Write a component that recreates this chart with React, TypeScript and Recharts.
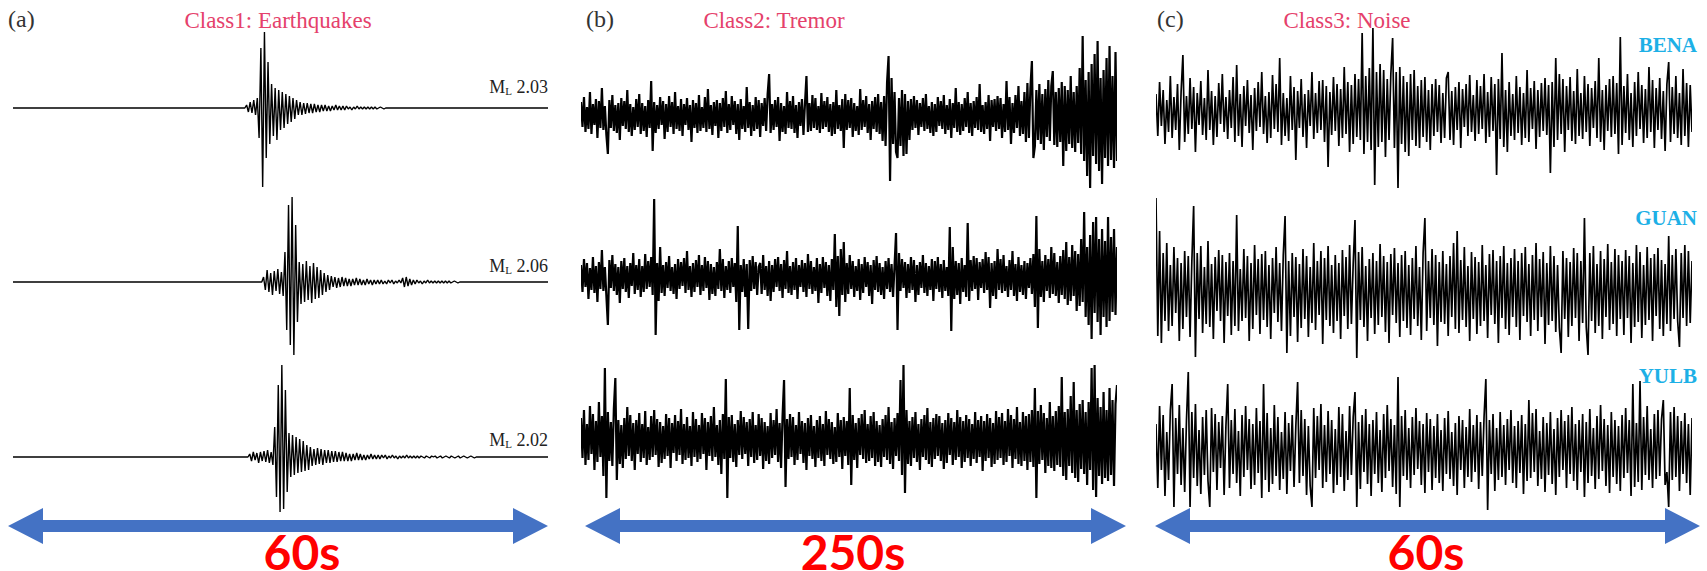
import React from 'react';
import { LineChart, Line, XAxis, YAxis } from 'recharts';

// ---------- labels ----------
const panelLetters = ['(a)', '(b)', '(c)'];
const classTitles = ['Class1: Earthquakes', 'Class2: Tremor', 'Class3: Noise'];
const durationLabels = ['60s', '250s', '60s'];
const magnitudes = ['2.03', '2.06', '2.02'];
const stations = ['BENA', 'GUAN', 'YULB'];

// ---------- panel (a): earthquakes, 60 s, bursts sampled every 0.2 s ----------
const eqDuration = 60;
const eqStep = 0.2;
const eqOnsets = [26.0, 27.9, 26.35];
const eqTicks = [0, 20, 40, 60];
const eqBurst1 = [
  3, -4, 6, -5, 8, -7, 10,
  -30, 60, -79, 76, -50, 46, -36,
  24, -28, 20, -32, 18, -22, 16, -20, 14, -16, 12, -14, 10, -11,
  8, -7, 6, -7, 5, -6, 5, -5, 4, -5, 4, -4, 3, -4, 3, -3, 3, -3, 2, -3, 2, -2, 3, -2, 2, -2, 2, -2, 2, -1,
  1, -2, 1, -1, 2, -1, 1, -1, 1, -1, 1, -1, 1, -1, 1, -1, 0, 1, 0, -1, 0,
];
const eqBurst2 = [
  5, -8, 12, -10, 9, -13, 11, -9, 13, -12, 10, -14,
  30, -48, 77, -63, 85, -73, 57, -40,
  20, -22, 18, -20, 21, -18, 16, -21, 19, -17, 15, -16, 12, -13,
  9, -10, 7, -8,
  6, -5, 5, -6, 4, -5, 5, -4, 4, -4, 3, -4, 3, -3, 4, -3, 3, -3, 2, -3, 3, -2, 2, -3, 2, -2, 2, -2, 2, -2,
  1, -2, 2, -1, 2, -2, 1, -1, 2, -1, 4, -5, 5, -4, 3, -3, 2, -2, 2, -1, 1, -2, 1, -1, 2, -1,
  1, -1, 1, -1, 1, -1, 1, -1, 1, -1, 1, -1, 0, 1, 0, -1, 0,
];
const eqBurst3 = [
  3, -4, 5, -3, 4, -6, 5, -4, 6, -5, 7, -6, 5, -8,
  30, -40, 72, -55, 92, -52, 67, -35,
  24, -20, 22, -18, 20, -16, 18, -15, 16, -14, 12, -13, 10,
  -9, 8, -8, 9, -7, 8, -8, 7, -6, 7, -6, 6, -5, 6, -5, 5, -4, 5, -4, 4,
  -4, 3, -4, 3, -3, 4, -3, 3, -3, 2, -3, 2, -2, 3, -2, 2, -2, 2, -2, 2, -1, 2, -2, 1, -1, 2, -1, 1, -2, 1,
  -1, 1, -1, 2, -1, 1, -1, 1, -1, 1, -1, 1,
  0, -1, 1, 0, -1, 1, 0, 1, -1, 0, 1, -1, 0, 1, 0, -1, 1, 0, -1, 0, 1, -1, 0, 1, 0, -1, 0, 1, 0, -1,
];

// ---------- panel (b): tremor, 250 s ----------
const tremorDuration = 250;
const tremorTicks = [0, 50, 100, 150, 200, 250];
const tremor1 = [
  14, -11, 19, -16, 9, -13, 24, -18, 12, -9, 17, -22, 15, -12, 28, -14, 10, -19, -38, 16,
  -12, 21, -15, 11, -17, 13, -24, 18, -10, 15, -13, 26, -16, 12, -20, 9, -14, 17, -11, 22,
  -18, 13, -15, 10, -21, 16, -12, 35, -35, 14, -17, 11, -13, 19, -9, 15, -23, 12, -16, 20,
  -11, 14, -18, 24, -13, 10, -15, 17, -20, 12, -9, 18, -14, 11, -26, 16, -12, 13, -17, 21,
  -15, 9, -12, 19, -16, 27, -13, 11, -19, 14, -10, 16, -22, 13, -15, 18, -11, 25, -17, 12,
  -14, 20, -9, 15, -18, 12, -24, 17, -13, 10, -16, 29, -12, 14, -20, 11, -15, 19, -13, 16,
  -21, 13, -10, 18, -15, 22, 42, -17, 12, -14, 16, -11, 19, -25, 13, -16, 10, -18, 24, -12,
  15, -13, 20, -17, 11, -22, 14, -10, 17, -19, 12, 40, -16, 13, -15, 21, -12, 18, -14, 10,
  -17, 23, -13, 15, -11, 19, -16, 12, -20, 14, -18, 26, -13, 11, -15, 17, -32, 22, -14, 16,
  -12, 18, -21, 13, -15, 10, -19, 27, -14, 16, -11, 20, -17, 12, -24, 15, -13, 19, -16, 22,
  -18, 14, -25, 20, -30, 34, 60, -65, 38, -28, 24, -36, -42, 18, -30, 26, -40, 22, -38, 15,
  -24, 17, -14, 20, -12, 16, -19, 13, -11, 18, -15, 22, -13, 10, -17, 14, -20, 12, -16, 19,
  -10, 15, -13, 21, -18, 11, -14, 17, -22, 13, -12, 28, -16, 14, -19, 12, -15, 18, -11, 24,
  -17, 13, -20, 15, -12, 19, -14, 32, -16, 11, -18, 14, -13, 21, -25, 16, -11, 17, -15, 20,
  -13, 18, -22, 12, -16, 35, -14, 19, -28, 13, -17, 21, -12, 30, -20, 15, -18, 24, -26, 33,
  -22, 28, 55, -42, -30, 26, -24, 32, -28, 22, -34, 27, -21, 36, -25, 30, 45, -29, 24, -31,
  28, -26, 34, -50, 30, -35, 26, -28, 40, -32, 24, -36, 30, -27, 48, -38, 80, -45, 36, -60,
  44, -72, 52, -40, 62, -48, 75, -55, 38, -68, 46, -42, 58, -50, 70, -44, 40, -52, 64, -45,
];
const tremor2 = [
  12, -15, 18, -10, 14, -22, 9, -13, 20, -16, 11, -25, 15, -12, 27, -14, 10, -19, -48, 17,
  -11, 22, -14, 13, -18, 10, -26, 16, -12, 19, -15, 11, -21, 14, -9, 24, -17, 12, -13, 18,
  -20, 11, -15, 23, -12, 16, -10, 20, -18, 78, -58, 14, -24, 30, -16, 12, -19, 15, -11, 21,
  -14, 10, -17, 13, -22, 18, -12, 15, -9, 19, -16, 26, -13, 11, -20, 14, -15, 17, -10, 22,
  -18, 12, -14, 20, -11, 16, -23, 13, -17, 10, -19, 15, -12, 28, -14, 18, -21, 11, -13, 16,
  -16, 19, -10, 14, -25, 51, -53, 12, -15, 18, -20, 13, -52, 17, -14, 21, -12, 15, -18, 10,
  14, -17, 22, -13, 11, -19, 16, -24, 12, -15, 18, -10, 20, -14, 13, -21, 17, -12, 26, -16,
  11, -18, 15, -13, 19, -22, 12, -10, 17, -15, 14, -20, 23, -12, 16, -17, 10, -14, 19, -26,
  13, -16, 20, -11, 15, -19, 12, -24, 18, -13, 43, -30, 21, -39, 28, -18, 35, -25, 14, -17,
  22, -12, 16, -20, 11, -14, 18, -23, 13, -16, 20, -10, 15, -19, 12, -27, 17, -13, 21, -15,
  14, -18, 10, -22, 16, -12, 19, -15, 13, -20, 11, 44, -53, 24, -14, 18, -11, 15, -21, 13,
  -16, 20, -13, 17, -25, 12, -18, 15, -11, 22, -16, 14, -19, 11, -13, 18, -24, 16, -12, 20,
  -15, 13, -21, 17, -14, 10, -19, 50, -54, 30, -22, 16, -18, 14, -27, 19, -15, 12, -20, 54,
  -24, 17, -14, 21, -12, 19, -23, 15, -11, 18, -16, 25, -13, 20, -31, 14, -19, 16, -22, 28,
  -13, 18, -16, 22, -14, 11, -20, 17, -13, 26, -19, 13, -24, 20, -15, 12, -18, 16, -22, 14,
  -11, 19, -17, 23, -30, 61, -51, 28, -20, 16, -25, 22, -14, 18, -21, 30, -17, 24, -19, 15,
  -26, 21, -18, 27, -22, 35, -28, 20, -24, 32, -19, 26, -34, 23, -29, 38, -25, 65, -40, 30,
  -48, 42, -62, 55, -36, 60, -45, 38, -58, 48, -40, 36, -50, 60, -44, 40, -35, 48, -38, 30,
];
const tremor3 = [
  22, -18, 30, -25, 16, -20, 34, -14, 26, -30, 19, -22, 38, -17, 24, -36, 72, -58, 28, -21,
  18, -26, 31, 62, -40, 20, -24, 15, -28, 22, -19, 33, -16, 25, -21, 17, -30, 20, -14, 27,
  -22, 16, -18, 29, -25, 13, -20, 24, -17, 30, -15, 21, -27, 18, -23, 14, -19, 26, -16, 22,
  -28, 17, -13, 25, -21, 19, -15, 31, -24, 16, -20, 23, -18, 14, -26, 28, -17, 21, -22, 15,
  -19, 27, -14, 22, -30, 18, -16, 24, -21, 33, -17, 15, -25, 20, -34, 26, -19, 61, -58, 23,
  -18, 25, -22, 16, -27, 20, -15, 29, -19, 23, -14, 18, -26, 21, -17, 28, -23, 15, -20, 26,
  -16, 22, -29, 18, -21, 14, -24, 27, -18, 20, -15, 31, -22, 17, -28, 24, 60, -47, 21, -19,
  26, -17, 23, -25, 15, -20, 28, -14, 19, -23, 17, -30, 22, -16, 25, -19, 14, -27, 20, -18,
  24, -21, 16, -26, 29, -15, 21, -19, 18, -24, 13, -22, 27, -17, 20, -29, 23, -16, 19, -25,
  52, -45, 25, -20, 17, -28, 22, -15, 26, -19, 30, -23, 16, -21, 24, -18, 28, -26, 19, -22,
  15, -27, 21, -17, 25, -20, 33, -24, 18, -29, 22, -16, 27, -21, 60, -35, 75, -53, 30, -24,
  19, -26, 23, -18, 28, -22, 16, -30, 21, -17, 25, -20, 32, -24, 18, -27, 22, -19, 26, -16,
  24, -21, 17, -29, 20, -23, 27, -15, 22, -25, 18, -20, 30, -17, 23, -28, 19, -22, 25, -18,
  21, -26, 16, -19, 28, -23, 20, -17, 24, -31, 19, -21, 26, -18, 22, -27, 17, -24, 29, -20,
  23, -18, 27, -25, 19, -22, 31, -16, 25, -28, 21, -19, 33, -24, 18, -26, 28, -21, 24, -30,
  26, -22, 30, -27, 52, -58, 29, -24, 35, -20, 27, -33, 22, -26, 38, -28, 24, -31, 29, -25,
  34, -27, 63, -36, 28, -40, 31, -26, 44, -33, 58, -38, 30, -42, 36, -29, 40, -34, 28, -45,
  38, -30, 72, -50, 75, -57, 42, -36, 33, -44, 48, -38, 30, -41, 52, -35, 40, -46, 36, 55,
];

// ---------- panel (c): noise, 60 s ----------
const noiseDuration = 60;
const noiseTicks = [0, 20, 40, 60];
const noiseBENA = [
  18, -24, 30, -14, 22, -32, 12, -20, 36, -26, 15, -18, 28, -38, 20, 57, -30, 16, -22, 34,
  -17, 25, -40, 19, -13, 31, -23, 14, -28, 42, -18, 21, -33, 16, -25, 29, -12, 38, -20, 15,
  -27, 22, -16, 35, -30, 47, -24, 18, -35, 26, -14, 32, -21, 17, -38, 24, -19, 30, -15, 40,
  -22, 16, -31, 20, -26, 37, -17, 28, -20, 54, -33, 19, -24, 14, -29, 36, -18, 25, -48, 21,
  -16, 33, -25, 18, -36, 22, -14, 40, -27, 19, -21, 31, -18, 32, -30, 26, -55, 20, -23, 35,
  -19, 28, -34, 23, -26, 45, -22, 30, -40, 27, -32, 38, -25, 33, -28, 79, -42, 36, -30, 44,
  -38, 84, -73, 40, -35, 48, -30, 42, -45, 33, -28, 38, 74, -36, 40, -76, 45, -32, 36, -40,
  30, -44, 38, -28, 42, -34, 26, -36, 32, -25, 35, -30, 22, -38, 28, -24, 33, -20, 27, -31,
  19, -26, 34, 40, -28, 21, -33, 25, -18, 30, -36, 23, -15, 28, -24, 37, -20, 17, -29, 32,
  -22, 26, -17, 38, -31, 20, -25, 35, -19, 28, -63, 33, -27, 59, -35, 22, -40, 30, -24, 18,
  -28, 36, -21, 25, -33, 19, -26, 42, -30, 24, -17, 31, -37, 22, -25, 29, -19, 34, -23, 27,
  -61, 30, -35, 54, -28, 38, -22, 33, -40, 26, -18, 35, -29, 21, -32, 43, -24, 19, -27, 36,
  -20, 28, -34, 24, -16, 31, -26, 54, -30, 22, -38, 27, -19, 33, -25, 36, -22, 29, -42, 75,
  -33, 26, -21, 38, -28, 19, -35, 30, -24, 40, -17, 27, -31, 23, -26, 45, -20, 32, -36, 24,
  -18, 34, -27, 21, -39, 28, 50, -30, 25, -22, 36, -26, 19, -33, 43, -24, 29, -35, 27, -20,
];
const noiseGUAN = [
  93, -45, 60, -52, 38, -30, 48, -40, 26, -35, 44, -22, 33, -50, 28, -38, 40, -26, 35, -46,
  30, 85, -66, 38, -28, 45, -42, 24, -33, 50, -36, 27, -48, 34, -20, 41, -30, 36, -52, 29,
  -25, 38, -44, 30, -35, 76, -40, 22, -30, 42, -27, 35, -50, 28, -38, 46, -24, 32, -43, 37,
  -29, 40, -36, 26, -48, 33, -22, 44, -31, 28, -40, 36, 75, -62, 30, -45, 38, -26, 34, -51,
  27, -37, 42, -28, 35, -46, 24, -32, 48, -39, 30, -24, 40, -53, 33, -29, 45, -35, 26, -42,
  36, -30, 28, -48, 41, -25, 34, -38, 46, -33, 27, 71, -67, 39, -29, 44, -36, 25, -50, 32,
  -27, 38, -43, 30, -34, 47, -26, 35, -41, 29, -52, 37, -24, 43, -32, 28, -46, 36, -30, 40,
  -37, 26, -44, 33, -28, 45, -35, 24, -49, 38, 73, -40, 30, -27, 42, -34, 36, -55, 29, -31,
  40, -33, 27, -45, 35, -26, 48, -38, 60, -42, 31, -29, 44, -36, 25, -50, 39, -28, 34, -43,
  29, -35, 46, -30, 26, -47, 37, -24, 41, -33, 30, -52, 35, -27, 45, -38, 28, -44, 33, -26,
  42, -36, 30, -49, 38, -25, 44, -31, 27, -45, 36, -29, 48, -40, 32, -26, 39, -53, 28, -34,
  45, -30, 35, -41, 26, -37, -62, 40, -28, 33, -46, 29, -35, 43, -27, 38, -50, 30, -32, 73,
  -36, -64, 38, -30, 45, -42, 27, -35, 40, -48, 32, -26, 47, -39, 29, -33, 42, -45, 36, -28,
  30, -44, 41, -27, 35, -52, 28, -36, 46, -31, 39, -47, 26, -34, 44, -29, 33, -50, 37, -25,
  43, -38, 31, -45, 27, -33, 55, -40, 36, -28, 42, -30, -56, 38, -27, 46, -35, 40, -32, 30,
];
const noiseYULB = [
  26, -38, 44, -20, 35, -46, 18, -30, 40, 66, -57, 32, -24, 45, -35, 22, -42, 30, 78, -57,
  38, -28, 46, -36, 20, -44, 33, -25, 40, -31, -57, 42, -22, 36, -40, 28, -18, 34, -45, 24,
  66, -38, 30, -24, 41, -33, 19, -46, 35, -27, 44, -20, 31, -39, 26, -35, 42, -23, 29, -48,
  66, -30, 37, -42, 22, -34, 45, -26, 33, -40, 18, -29, 38, -44, 27, -21, 35, -37, 24, 68,
  -33, 40, -26, 31, -45, 24, -36, -57, 42, -28, 34, -20, 46, -38, 25, -32, 39, -24, 30, -43,
  21, -35, 43, -27, 36, -41, 19, -30, 44, -25, 33, 58, -57, 28, -39, 35, -22, 41, -34, 26,
  -46, 30, -24, 38, -33, 20, -42, 36, -28, 45, -21, 31, -37, 25, -44, 73, -57, 34, -26, 40,
  -30, 22, -38, 33, -25, 42, -19, 29, -35, 26, -43, 37, -22, 31, -40, 24, -28, 36, -33, 20,
  -41, 32, -24, 39, -29, 18, -36, 27, -45, 34, -20, 30, -38, 23, -27, 41, -32, 25, -22, 35,
  -39, 28, -26, 33, 71, -60, 30, -24, 36, -41, 22, -30, 38, -27, 25, -35, 31, -20, 40, -33,
  24, -38, 29, -23, 35, -44, 26, -31, 50, -28, 37, -22, 41, -36, 19, -29, 33, -42, 27, -25,
  38, -34, 21, -45, 32, -27, 40, -20, 29, -38, 35, -24, 43, -31, 26, -40, 30, -22, 36, -47,
  28, -33, 41, -26, 22, -39, 34, -29, 45, -21, 31, -36, 25, -43, 38, -27, 30, -34, 24, -41,
  35, -28, 42, -23, 30, -46, 66, -37, 27, -32, 69, -40, 33, -25, 44, -30, 21, -38, 36, -29,
  40, -26, 31, 50, -35, -22, -57, 38, -30, 43, -27, 34, -41, 29, -24, 37, -33, 26, -45, 32,
];

// ---------- tables for the library ----------
type Pt = { t: number; v: number };
const burstTable = (onset: number, burst: number[]): Pt[] => [
  { t: 0, v: 0 },
  { t: onset, v: 0 },
  ...burst.map((v, i) => ({ t: onset + (i + 1) * eqStep, v })),
  { t: onset + (burst.length + 1) * eqStep, v: 0 },
  { t: eqDuration, v: 0 },
];
const seriesTable = (vals: number[], duration: number): Pt[] =>
  vals.map((v, i) => ({ t: (i * duration) / (vals.length - 1), v }));

const eqTables = [eqBurst1, eqBurst2, eqBurst3].map((b, k) => burstTable(eqOnsets[k], b));
const tremorTables = [tremor1, tremor2, tremor3].map((s) => seriesTable(s, tremorDuration));
const noiseTables = [noiseBENA, noiseGUAN, noiseYULB].map((s) => seriesTable(s, noiseDuration));

// ---------- layout ----------
const PLOT_H = 512;
const CHART_H = 516;

type PanelProps = {
  left: number;
  width: number;
  duration: number;
  ticks: number[];
  tables: Pt[][];
  centers: number[];
  strokeWidth: number;
};

function Panel({ left, width, duration, ticks, tables, centers, strokeWidth }: PanelProps) {
  return (
    <div style={{ position: 'absolute', left, top: 0 }}>
      <LineChart width={width} height={CHART_H} margin={{ top: 0, right: 0, bottom: 0, left: 0 }}>
        <XAxis
          type="number"
          dataKey="t"
          domain={[0, duration]}
          allowDataOverflow
          ticks={ticks}
          tick={false}
          tickSize={2}
          axisLine={false}
          tickLine={{ stroke: '#aaaaaa' }}
          height={CHART_H - PLOT_H}
        />
        {centers.map((c, k) => (
          <YAxis key={'y' + k} yAxisId={'y' + k} type="number" domain={[-(PLOT_H - c), c]} allowDataOverflow hide />
        ))}
        {tables.map((d, k) => (
          <Line
            key={'l' + k}
            yAxisId={'y' + k}
            data={d}
            dataKey="v"
            type="linear"
            stroke="#000000"
            strokeWidth={strokeWidth}
            strokeLinejoin="bevel"
            dot={false}
            activeDot={false}
            isAnimationActive={false}
          />
        ))}
      </LineChart>
    </div>
  );
}

function arrowPoints(x1: number, x2: number, y: number) {
  const hl = 35, hh = 18, sw = 6;
  return [
    [x1, y], [x1 + hl, y - hh], [x1 + hl, y - sw], [x2 - hl, y - sw], [x2 - hl, y - hh],
    [x2, y], [x2 - hl, y + hh], [x2 - hl, y + sw], [x1 + hl, y + sw], [x1 + hl, y + hh],
  ].map((p) => p.join(',')).join(' ');
}

const serif = '"Liberation Serif", "Times New Roman", serif';

export default function App() {
  const panels = [
    { left: 13, width: 535 },
    { left: 581, width: 536 },
    { left: 1156, width: 536 },
  ];
  const titleX = [278, 774, 1347];
  const letterX = [8, 586, 1157];
  const arrows = [[8, 548], [585, 1126], [1155, 1700]];
  const durX = [302, 853, 1426];
  const magY = [93, 272, 446];
  const stationY = [52, 225, 383];
  return (
    <div style={{ position: 'absolute', left: 0, top: 0, width: 1707, height: 571, background: '#ffffff', overflow: 'hidden' }}>
      <Panel left={panels[0].left} width={panels[0].width} duration={eqDuration} ticks={eqTicks}
        tables={eqTables} centers={[108, 282, 457]} strokeWidth={1.4} />
      <Panel left={panels[1].left} width={panels[1].width} duration={tremorDuration} ticks={tremorTicks}
        tables={tremorTables} centers={[116, 277, 440]} strokeWidth={2.2} />
      <Panel left={panels[2].left} width={panels[2].width} duration={noiseDuration} ticks={noiseTicks}
        tables={noiseTables} centers={[112, 291, 450]} strokeWidth={1.7} />
      <svg width={1707} height={571} style={{ position: 'absolute', left: 0, top: 0, pointerEvents: 'none' }}>
        {panelLetters.map((s, k) => (
          <text key={'p' + k} x={letterX[k]} y={27} fontFamily={serif} fontSize={24} fill="#333333">{s}</text>
        ))}
        {classTitles.map((s, k) => (
          <text key={'t' + k} x={titleX[k]} y={28} textAnchor="middle" fontFamily={serif} fontSize={23} fill="#E5416B">{s}</text>
        ))}
        {magnitudes.map((m, k) => (
          <text key={'m' + k} x={548} y={magY[k]} textAnchor="end" fontFamily={serif} fontSize={18} fill="#222222">
            M<tspan fontSize={11} dy={2}>L</tspan><tspan dy={-2}>{' ' + m}</tspan>
          </text>
        ))}
        {stations.map((s, k) => (
          <text key={'s' + k} x={1697} y={stationY[k]} textAnchor="end" fontFamily={serif} fontWeight="bold" fontSize={21} fill="#1DB0E6">{s}</text>
        ))}
        {arrows.map((a, k) => (
          <polygon key={'a' + k} points={arrowPoints(a[0], a[1], 526)} fill="#4472C4" />
        ))}
        {durationLabels.map((s, k) => (
          <text key={'d' + k} x={durX[k]} y={570} textAnchor="middle" fontFamily='Lato, "Liberation Sans", sans-serif' fontWeight="bold" fontSize={48} fill="#FF0000">{s}</text>
        ))}
      </svg>
    </div>
  );
}
